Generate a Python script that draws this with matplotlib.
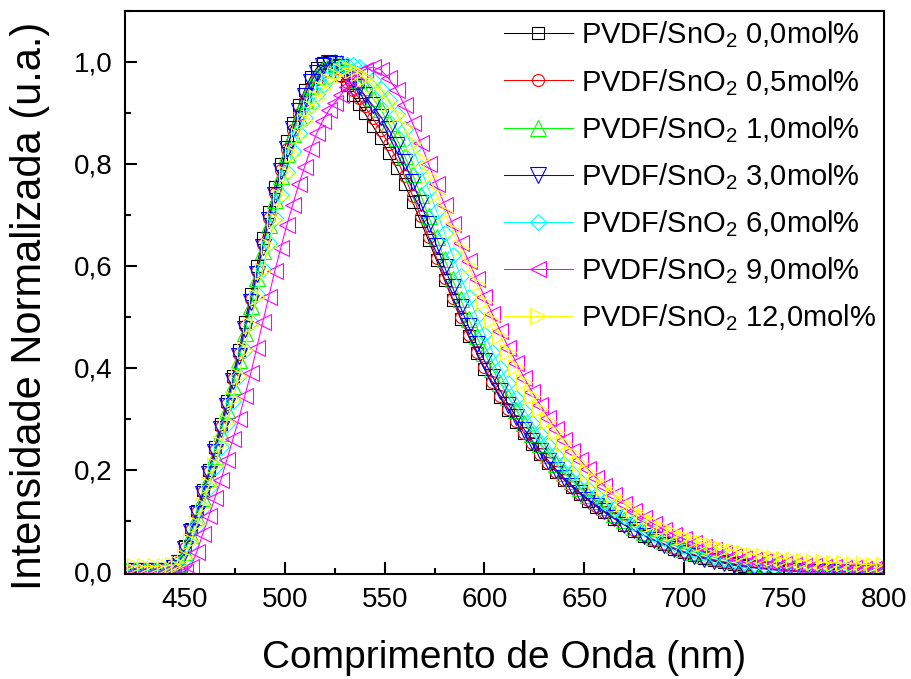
import matplotlib
matplotlib.use("Agg")
import matplotlib.pyplot as plt
from matplotlib.ticker import MultipleLocator, FuncFormatter

plt.rcParams["font.family"] = ["Liberation Sans", "DejaVu Sans"]
plt.rcParams["mathtext.fontset"] = "custom"
plt.rcParams["mathtext.rm"] = "Liberation Sans"
plt.rcParams["mathtext.it"] = "Liberation Sans"

# wavelength (nm)
wavelength = [420, 425, 430, 435, 440,
              444, 447, 450, 453, 456, 459, 462, 465, 468, 471, 474, 477, 480, 483, 486, 489, 492,
              495, 498, 501, 504, 507, 510, 513, 516, 519, 522, 525, 528, 531, 534, 537, 540,
              544, 548, 552, 556, 560, 564, 568, 572, 576, 580, 584, 588, 592, 596, 600, 604, 608,
              612, 616, 620, 624, 628, 632, 636, 640, 644, 648, 652, 656, 660,
              665, 670, 675, 680, 685, 690, 695, 700, 705, 710, 715, 720, 725, 730, 735, 740, 745,
              750, 755, 760, 765, 770, 775, 780, 785, 790, 795, 800]

# normalised intensity
s00 = [0.005, 0.005, 0.005, 0.005, 0.005,
       0.012, 0.022, 0.05, 0.085, 0.12, 0.16, 0.20, 0.245, 0.29, 0.335, 0.385, 0.435, 0.49, 0.545,
       0.60, 0.655, 0.705, 0.755, 0.80, 0.845, 0.88, 0.915, 0.945, 0.97, 0.988, 0.998, 1.0, 0.993,
       0.975, 0.955, 0.935, 0.918, 0.90,
       0.875, 0.85, 0.822, 0.792, 0.76, 0.725, 0.688, 0.65, 0.611, 0.572, 0.534, 0.497, 0.462,
       0.43, 0.399, 0.37, 0.343, 0.318, 0.294, 0.272, 0.251, 0.231, 0.213, 0.196, 0.18, 0.166,
       0.152, 0.14, 0.128, 0.117,
       0.104, 0.092, 0.081, 0.071, 0.062, 0.054, 0.046, 0.039, 0.033, 0.028, 0.023, 0.019, 0.015,
       0.012, 0.009, 0.007, 0.005, 0.004, 0.003, 0.002, 0.001, 0.001, 0.001, 0.001, 0.001, 0.001,
       0.001, 0.001]
s05 = [0.003, 0.003, 0.003, 0.003, 0.003,
       0.01, 0.02, 0.048, 0.082, 0.117, 0.156, 0.196, 0.24, 0.285, 0.33, 0.378, 0.428, 0.482, 0.536,
       0.59, 0.643, 0.694, 0.743, 0.788, 0.83, 0.866, 0.898, 0.926, 0.949, 0.966, 0.977, 0.982, 0.98,
       0.972, 0.96, 0.946, 0.93, 0.913,
       0.89, 0.866, 0.84, 0.81, 0.776, 0.738, 0.698, 0.657, 0.616, 0.576, 0.537, 0.5, 0.465, 0.432,
       0.401, 0.372, 0.345, 0.32, 0.296, 0.273, 0.252, 0.232, 0.214, 0.197, 0.181, 0.167, 0.153,
       0.141, 0.129, 0.118,
       0.105, 0.093, 0.082, 0.072, 0.063, 0.055, 0.047, 0.04, 0.034, 0.029, 0.024, 0.02, 0.016,
       0.013, 0.01, 0.008, 0.006, 0.004, 0.003, 0.002, 0.001, 0.001, 0.001, 0.001, 0.001, 0.001,
       0.001, 0.001]
s10 = [0.003, 0.003, 0.003, 0.003, 0.003,
       0.007, 0.015, 0.04, 0.072, 0.107, 0.145, 0.185, 0.228, 0.272, 0.318, 0.365, 0.415, 0.468,
       0.522, 0.576, 0.63, 0.68, 0.73, 0.776, 0.82, 0.858, 0.893, 0.925, 0.952, 0.972, 0.987, 0.996,
       1.0, 0.998, 0.99, 0.978, 0.965, 0.95,
       0.93, 0.907, 0.88, 0.85, 0.816, 0.78, 0.74, 0.698, 0.656, 0.614, 0.574, 0.535, 0.497, 0.462,
       0.43, 0.398, 0.37, 0.343, 0.317, 0.293, 0.271, 0.25, 0.23, 0.212, 0.195, 0.179, 0.165,
       0.151, 0.139, 0.128,
       0.114, 0.101, 0.089, 0.078, 0.069, 0.06, 0.052, 0.045, 0.039, 0.034, 0.029, 0.025, 0.021,
       0.018, 0.015, 0.012, 0.01, 0.008, 0.006, 0.005, 0.004, 0.003, 0.003, 0.002, 0.002, 0.002,
       0.001, 0.001]
s30 = [0.002, 0.002, 0.002, 0.002, 0.002,
       0.008, 0.018, 0.045, 0.078, 0.113, 0.152, 0.192, 0.235, 0.28, 0.326, 0.374, 0.424, 0.477,
       0.53, 0.585, 0.638, 0.69, 0.74, 0.786, 0.83, 0.868, 0.903, 0.934, 0.96, 0.979, 0.992, 0.998,
       0.997, 0.99, 0.978, 0.964, 0.95, 0.935,
       0.915, 0.893, 0.868, 0.838, 0.803, 0.765, 0.724, 0.682, 0.64, 0.598, 0.558, 0.519, 0.482,
       0.447, 0.414, 0.383, 0.355, 0.328, 0.303, 0.279, 0.257, 0.237, 0.218, 0.2, 0.184, 0.169,
       0.155, 0.142, 0.13, 0.119,
       0.106, 0.093, 0.082, 0.071, 0.062, 0.053, 0.045, 0.038, 0.032, 0.026, 0.021, 0.017, 0.013,
       0.01, 0.008, 0.006, 0.004, 0.002, 0.001, 0.0, 0.0, 0.0, 0.0, 0.0, 0.0, 0.0, 0.0, 0.0]
s60 = [0.003, 0.003, 0.003, 0.003, 0.003,
       0.005, 0.01, 0.025, 0.055, 0.09, 0.125, 0.165, 0.205, 0.245, 0.29, 0.335, 0.385, 0.435,
       0.49, 0.545, 0.595, 0.645, 0.695, 0.74, 0.785, 0.825, 0.86, 0.89, 0.915, 0.937, 0.955, 0.97,
       0.982, 0.99, 0.995, 0.995, 0.99, 0.98,
       0.965, 0.948, 0.925, 0.898, 0.868, 0.832, 0.792, 0.75, 0.708, 0.665, 0.622, 0.58, 0.54,
       0.502, 0.466, 0.432, 0.40, 0.37, 0.342, 0.316, 0.292, 0.27, 0.249, 0.229, 0.211, 0.194,
       0.178, 0.163, 0.15, 0.138,
       0.123, 0.11, 0.097, 0.086, 0.075, 0.066, 0.057, 0.05, 0.043, 0.037, 0.032, 0.027, 0.023,
       0.019, 0.016, 0.013, 0.011, 0.009, 0.007, 0.006, 0.005, 0.004, 0.003, 0.003, 0.002, 0.002,
       0.002, 0.002]
s90 = [0.0, 0.0, 0.0, 0.0, 0.0,
       0.0, 0.0, 0.0, 0.01, 0.04, 0.075, 0.11, 0.145, 0.18, 0.22, 0.26, 0.30, 0.345, 0.39, 0.44,
       0.49, 0.54, 0.59, 0.635, 0.68, 0.72, 0.76, 0.795, 0.83, 0.86, 0.885, 0.905, 0.92, 0.935,
       0.95, 0.965, 0.978, 0.985,
       0.99, 0.985, 0.968, 0.945, 0.915, 0.88, 0.842, 0.80, 0.76, 0.72, 0.682, 0.645, 0.61, 0.575,
       0.54, 0.505, 0.472, 0.44, 0.41, 0.38, 0.352, 0.327, 0.302, 0.28, 0.258, 0.238, 0.219,
       0.201, 0.184, 0.169,
       0.15, 0.134, 0.12, 0.106, 0.094, 0.083, 0.073, 0.064, 0.056, 0.049, 0.043, 0.037, 0.032,
       0.028, 0.024, 0.021, 0.018, 0.016, 0.014, 0.012, 0.011, 0.01, 0.009, 0.008, 0.007, 0.006,
       0.006, 0.005]
s120 = [0.012, 0.012, 0.011, 0.011, 0.012,
        0.013, 0.016, 0.03, 0.06, 0.095, 0.13, 0.17, 0.21, 0.25, 0.295, 0.34, 0.385, 0.435, 0.485,
        0.54, 0.59, 0.64, 0.69, 0.735, 0.78, 0.82, 0.855, 0.885, 0.91, 0.93, 0.948, 0.962, 0.975,
        0.983, 0.988, 0.985, 0.978, 0.968,
        0.955, 0.94, 0.92, 0.897, 0.872, 0.842, 0.81, 0.776, 0.741, 0.705, 0.67, 0.635, 0.60, 0.565,
        0.53, 0.495, 0.462, 0.431, 0.401, 0.372, 0.345, 0.32, 0.296, 0.274, 0.253, 0.233, 0.214,
        0.197, 0.181, 0.166,
        0.15, 0.135, 0.121, 0.108, 0.096, 0.086, 0.077, 0.069, 0.062, 0.056, 0.05, 0.045, 0.041,
        0.037, 0.034, 0.031, 0.028, 0.026, 0.024, 0.022, 0.02, 0.019, 0.018, 0.017, 0.016, 0.015,
        0.014, 0.013]

series = [s00, s05, s10, s30, s60, s90, s120]
labels = ["PVDF/SnO$_2$ 0,0mol%", "PVDF/SnO$_2$ 0,5mol%", "PVDF/SnO$_2$ 1,0mol%",
          "PVDF/SnO$_2$ 3,0mol%", "PVDF/SnO$_2$ 6,0mol%", "PVDF/SnO$_2$ 9,0mol%",
          "PVDF/SnO$_2$ 12,0mol%"]
colors = ["#000000", "#FF0000", "#00FF00", "#0000FF", "#00FFFF", "#FF00FF", "#FFFF00"]
markers = ["s", "o", "^", "v", "D", "<", ">"]
msizes = [8.5, 8.6, 11.3, 11.3, 8.5, 11.3, 11.3]

fig = plt.figure(figsize=(9.12, 6.79), dpi=100)
ax = fig.add_axes([0.137, 0.1546, 0.8323, 0.8292])

for y, lab, c, m, ms in zip(series, labels, colors, markers, msizes):
    ax.plot(wavelength, y, color=c, linewidth=0.75, marker=m, markersize=ms,
            markerfacecolor="none", markeredgecolor=c, markeredgewidth=0.8, label=lab)

ax.set_xlim(420, 800)
ax.set_ylim(-0.004, 1.1)
ax.xaxis.set_major_locator(MultipleLocator(50))
ax.xaxis.set_minor_locator(MultipleLocator(25))
ax.yaxis.set_major_locator(MultipleLocator(0.2))
ax.yaxis.set_minor_locator(MultipleLocator(0.1))
ax.yaxis.set_major_formatter(FuncFormatter(lambda v, p: f"{v:.1f}".replace(".", ",")))

ax.tick_params(which="both", direction="in", width=1.5, labelsize=20, pad=9)
ax.tick_params(which="major", length=8.5)
ax.tick_params(which="minor", length=4.5)
for sp in ax.spines.values():
    sp.set_linewidth(1.5)

ax.set_xlabel("Comprimento de Onda (nm)", fontsize=28, labelpad=20)
ax.set_ylabel("Intensidade Normalizada (u.a.)", fontsize=30)
ax.yaxis.set_label_coords(-0.099, 0.476)

ax.legend(loc="upper left", frameon=False, fontsize=21, handlelength=2.37,
          handletextpad=0.28, labelspacing=0.56, borderaxespad=0.0,
          bbox_to_anchor=(0.4835, 1.0055))

fig.savefig("out.png", dpi=100)
